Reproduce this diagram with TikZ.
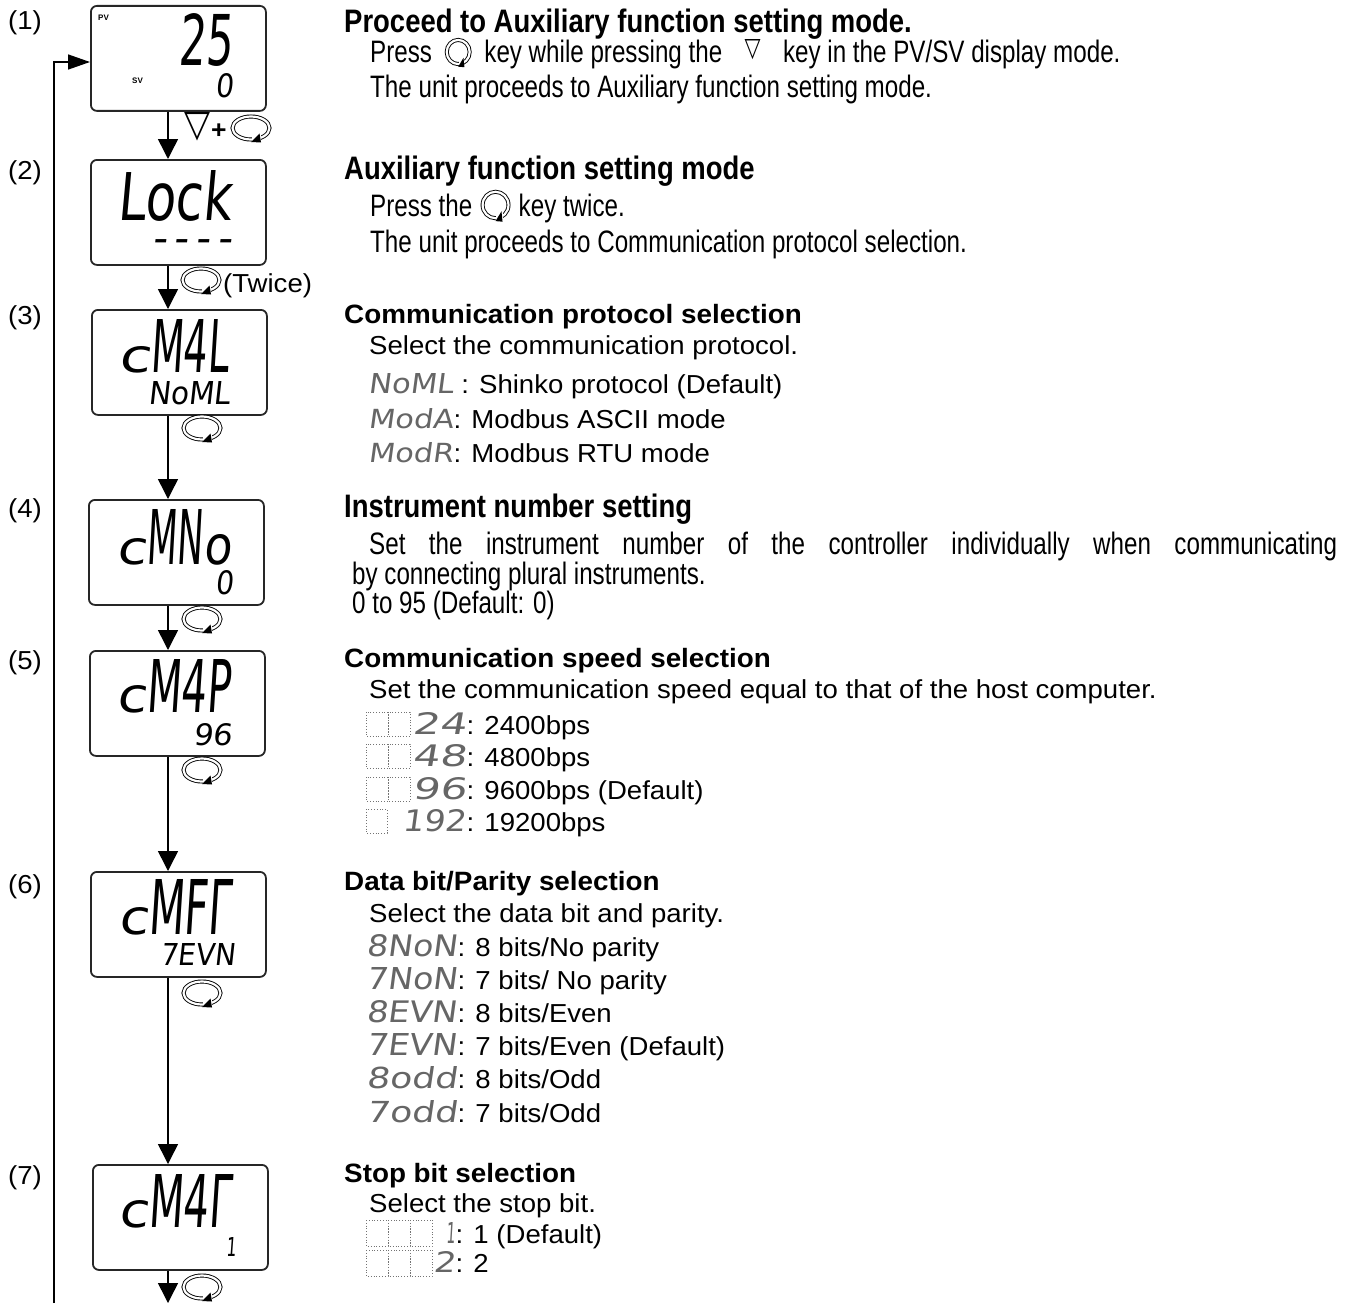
\documentclass[tikz,border=0pt]{standalone}
\usepackage{fontspec}
\usepackage{graphicx}
\setmainfont{Liberation Sans}
\newfontfamily\regf[FakeStretch=1.06]{Liberation Sans}
\newfontfamily\hdf[FakeStretch=1.05]{Liberation Sans}
\newfontfamily\narf[FakeStretch=0.78]{Liberation Sans}
\newfontfamily\narh[FakeStretch=0.845]{Liberation Sans}
\newfontfamily\lcdf[FakeSlant=0.12]{DejaVu Sans}
\newfontfamily\symf{DejaVu Sans}
\usetikzlibrary{arrows.meta,calc}
\newcommand\lcdt[3]{\resizebox{#1pt}{#2pt}{\lcdf #3}}
\tikzset{
  lcdbox/.style={draw=black!85, line width=1.8pt, rounded corners=6pt, minimum width=175pt, minimum height=105pt, inner sep=0pt, anchor=north west},
  flow/.style={line width=1.5pt, -{Triangle[length=20pt,width=20pt]}},
  lbl/.style={anchor=base west, inner sep=0pt, font=\regf\fontsize{26}{30}\selectfont},
  hd/.style={anchor=base west, inner sep=0pt, font=\hdf\bfseries\fontsize{26.5}{30}\selectfont},
  bd/.style={anchor=base west, inner sep=0pt, font=\regf\fontsize{26}{30}\selectfont},
  nhd/.style={anchor=base west, inner sep=0pt, font=\narh\bfseries\fontsize{32.5}{36}\selectfont},
  nbd/.style={anchor=base west, inner sep=0pt, font=\narf\fontsize{31}{36}\selectfont},
  lcd/.style={anchor=south west, inner sep=0pt},
  leg/.style={anchor=base west, inner sep=0pt, text=black!60},
  dig/.style={draw=black!55, dotted, line width=0.8pt},
  keyic/.pic={
    \draw[line width=0.9pt, double=white, double distance=2.2pt] (0,0) ellipse [x radius=18.5, y radius=11.5];
    \fill[white] (1,7) rectangle (10,15.5);
    \fill[black] (0,14) -- (10,14.5) -- (8.5,5.5) -- cycle;
  }
}
\begin{document}
\begin{tikzpicture}[x=1pt,y=-1pt]
\useasboundingbox (0,0) rectangle (1351,1303);

% ---------- step labels
\node[lbl] (n1) at (8,30) {(1)};
\node[lbl] (n2) at (8,179) {(2)};
\node[lbl] (n3) at (8,324) {(3)};
\node[lbl] (n4) at (8,517) {(4)};
\node[lbl] (n5) at (8,669) {(5)};
\node[lbl] (n6) at (8,893) {(6)};
\node[lbl] (n7) at (8,1184) {(7)};

% ---------- LCD boxes
\node[lcdbox] (b1) at (90,5) {};
\node[lcdbox] (b2) at (90,159) {};
\node[lcdbox] (b3) at (91,309) {};
\node[lcdbox] (b4) at (88,499) {};
\node[lcdbox] (b5) at (89,650) {};
\node[lcdbox] (b6) at (90,871) {};
\node[lcdbox] (b7) at (92,1164) {};

% box 1
\node[anchor=south west, inner sep=0pt, font=\bfseries\fontsize{8}{8}\selectfont] (pv) at (98,21) {PV};
\node[anchor=south west, inner sep=0pt, font=\bfseries\fontsize{8}{8}\selectfont] (sv) at (132,84) {SV};
\node[lcd] (d1a) at (178,67) {\lcdt{54}{52}{25}};
\node[lcd] (d1b) at (215,98) {\lcdt{18}{24}{0}};
% box 2
\node[lcd] (d2a) at (117,222) {\lcdt{114}{50}{Lock}};
\node[anchor=south west, inner sep=0pt] (d2b) at (152,253) {\resizebox{80pt}{!}{\lcdf -\,-\,-\,-}};
% box 3
\node[lcd] (d3a) at (118,373) {\lcdt{32}{26}{c}};
\node[lcd] (d3b) at (150,373) {\lcdt{78}{53}{M4L}};
\node[lcd] (d3c) at (148,405) {\lcdt{82}{23}{NoML}};
% box 4
\node[lcd] (d4a) at (116,565) {\lcdt{30}{26}{c}};
\node[lcd] (d4b) at (146,565) {\lcdt{56}{55}{MN}};
\node[lcd] (d4c) at (203,565) {\lcdt{28}{30}{o}};
\node[lcd] (d4d) at (215,595) {\lcdt{18}{24}{0}};
% box 5
\node[lcd] (d5a) at (116,713) {\lcdt{30}{27}{c}};
\node[lcd] (d5b) at (146,713) {\lcdt{84}{53}{M4P}};
\node[lcd] (d5c) at (193,746) {\lcdt{39}{22}{96}};
% box 6
\node[lcd] (d6a) at (118,935) {\lcdt{30}{27}{c}};
\node[lcd] (d6b) at (148,935) {\lcdt{82}{55}{MFΓ}};
\node[lcd] (d6c) at (160,966) {\lcdt{75}{22}{7EVN}};
% box 7
\node[lcd] (d7a) at (118,1228) {\lcdt{30}{27}{c}};
\node[lcd] (d7b) at (148,1228) {\lcdt{82}{53}{M4Γ}};
\node[lcd] (d7c) at (226,1257) {\lcdt{10}{19}{1}};

% ---------- connectors
\coordinate (ax) at (168,0);
\coordinate (fin) at (168,1303);
\coordinate (lb) at (54,1303);
\coordinate (ent) at (0,62);
\draw[flow] (b1.south -| ax) -- (b2.north -| ax);
\draw[flow] (b2.south -| ax) -- (b3.north -| ax);
\draw[flow] (b3.south -| ax) -- (b4.north -| ax);
\draw[flow] (b4.south -| ax) -- (b5.north -| ax);
\draw[flow] (b5.south -| ax) -- (b6.north -| ax);
\draw[flow] (b6.south -| ax) -- (b7.north -| ax);
\draw[flow] (b7.south -| ax) -- (fin);
\draw[line width=1.5pt, -{Triangle[length=22pt,width=15pt]}] (lb) |- (b1.west |- ent);

% ---------- key labels on connectors
\node[lcd] (k1a) at (184,141) {\resizebox{26pt}{24pt}{\symf ▽}};
\node[anchor=base west, inner sep=0pt, font=\regf\bfseries\fontsize{25}{25}\selectfont] (k1b) at (211,139) {+};
\pic at (251,128) {keyic};
\pic at (201,280) {keyic};
\node[lbl] (k2) at (223,292) {(Twice)};
\pic at (202,428) {keyic};
\pic at (202,619) {keyic};
\pic at (202,770) {keyic};
\pic at (202,993) {keyic};
\pic at (202,1287) {keyic};

% ---------- (1)
\node[nhd] (h1) at (344,33) {Proceed to Auxiliary function setting mode.};
\node[nbd] (t1a) at (370,63) {Press};
\pic[xscale=0.62,yscale=1.05] at ($(t1a.base east)+(26,-11)$) {keyic};
\node[nbd] (t1b) at ($(t1a.base east)+(52,0)$) {key while pressing the};
\node[anchor=base west, inner sep=0pt] (t1c) at ($(t1b.base east)+(22,0)$) {\raisebox{6pt}{\resizebox{16pt}{17pt}{\symf ▽}}};
\node[nbd] (t1d) at ($(t1c.base east)+(22,0)$) {key in the PV/SV display mode.};
\node[nbd] (t1e) at (370,98) {The unit proceeds to Auxiliary function setting mode.};

% ---------- (2)
\node[nhd] (h2) at (344,179) {Auxiliary function setting mode};
\node[nbd] (t2a) at (370,216) {Press the};
\pic[xscale=0.7,yscale=1.15] at ($(t2a.base east)+(23,-11)$) {keyic};
\node[nbd] (t2b) at ($(t2a.base east)+(46,0)$) {key twice.};
\node[nbd] (t2c) at (370,252) {The unit proceeds to Communication protocol selection.};

% ---------- (3)
\node[hd] (h3) at (344,323) {Communication protocol selection};
\node[bd] (t3a) at (369,354) {Select the communication protocol.};
\node[leg] (g3a) at (368,393) {\lcdt{85}{20}{NoML}};
\node[bd] (t3b) at (g3a.base east) {\ : Shinko protocol (Default)};
\node[leg] (g3b) at (368,428) {\lcdt{85}{20}{ModA}};
\node[bd] (t3c) at (g3b.base east) {: Modbus ASCII mode};
\node[leg] (g3c) at (368,462) {\lcdt{85}{20}{ModR}};
\node[bd] (t3d) at (g3c.base east) {: Modbus RTU mode};

% ---------- (4)
\node[nhd] (h4) at (344,517) {Instrument number setting};
\node[nbd] (t4a) at (369,554) {\makebox[968pt][s]{Set the instrument number of the controller individually when communicating}};
\node[nbd] (t4b) at (352,584) {by connecting plural instruments.};
\node[nbd] (t4c) at (352,613) {0 to 95 (Default: 0)};

% ---------- (5)
\node[hd] (h5) at (344,667) {Communication speed selection};
\node[bd] (t5a) at (369,698) {Set the communication speed equal to that of the host computer.};
\draw[dig] (366,712) rectangle (388,736) (388,712) rectangle (410,736);
\node[leg] (g5a) at (412,734) {\lcdt{54}{22}{24}};
\node[bd] (t5b) at (g5a.base east) {: 2400bps};
\draw[dig] (366,744) rectangle (388,768) (388,744) rectangle (410,768);
\node[leg] (g5b) at (412,766) {\lcdt{54}{22}{48}};
\node[bd] (t5c) at (g5b.base east) {: 4800bps};
\draw[dig] (366,777) rectangle (388,801) (388,777) rectangle (410,801);
\node[leg] (g5c) at (412,799) {\lcdt{54}{22}{96}};
\node[bd] (t5d) at (g5c.base east) {: 9600bps (Default)};
\draw[dig] (366,809) rectangle (387,833);
\node[leg] (g5d) at (402,831) {\lcdt{64}{22}{192}};
\node[bd] (t5e) at (g5d.base east) {: 19200bps};

% ---------- (6)
\node[hd] (h6) at (344,890) {Data bit/Parity selection};
\node[bd] (t6a) at (369,922) {Select the data bit and parity.};
\node[leg] (g6a) at (366,956) {\lcdt{91}{22}{8NoN}};
\node[bd] (t6b) at (g6a.base east) {: 8 bits/No parity};
\node[leg] (g6c) at (366,989) {\lcdt{91}{22}{7NoN}};
\node[bd] (t6c) at (g6c.base east) {: 7 bits/ No parity};
\node[leg] (g6d) at (366,1022) {\lcdt{91}{22}{8EVN}};
\node[bd] (t6d) at (g6d.base east) {: 8 bits/Even};
\node[leg] (g6e) at (366,1055) {\lcdt{91}{22}{7EVN}};
\node[bd] (t6e) at (g6e.base east) {: 7 bits/Even (Default)};
\node[leg] (g6f) at (366,1088) {\lcdt{91}{22}{8odd}};
\node[bd] (t6f) at (g6f.base east) {: 8 bits/Odd};
\node[leg] (g6g) at (366,1122) {\lcdt{91}{22}{7odd}};
\node[bd] (t6g) at (g6g.base east) {: 7 bits/Odd};

% ---------- (7)
\node[hd] (h7) at (344,1182) {Stop bit selection};
\node[bd] (t7a) at (369,1212) {Select the stop bit.};
\draw[dig] (366,1220) rectangle (388,1246) (388,1220) rectangle (410,1246) (410,1220) rectangle (432,1246);
\node[leg] (g7a) at (446,1243) {\lcdt{9}{21}{1}};
\node[bd] (t7b) at (g7a.base east) {: 1 (Default)};
\draw[dig] (366,1250) rectangle (388,1276) (388,1250) rectangle (410,1276) (410,1250) rectangle (432,1276);
\node[leg] (g7b) at (433,1272) {\lcdt{22}{21}{2}};
\node[bd] (t7c) at (g7b.base east) {: 2};
\end{tikzpicture}
\end{document}
